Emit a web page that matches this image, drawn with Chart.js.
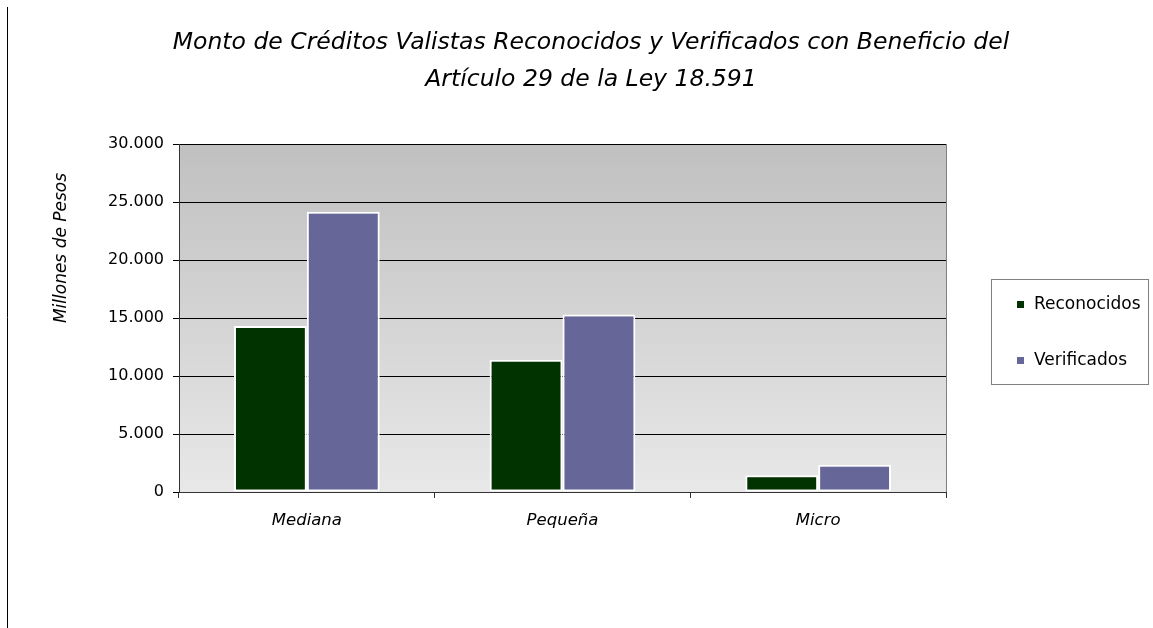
<!DOCTYPE html>
<html>
<head>
<meta charset="utf-8">
<script src="https://cdn.jsdelivr.net/npm/chart.js@4.4.1/dist/chart.umd.min.js"></script>
<style>
  html, body { margin: 0; padding: 0; background: #fff; }
  #wrap { width: 1153px; height: 628px; position: relative; }
</style>
</head>
<body>
<div id="wrap"><canvas id="grafico" width="1153" height="628"></canvas></div>
<script>
// datos (millones de pesos)
var categorias = ['Mediana', 'Pequeña', 'Micro'];
var reconocidos = [14300, 11400, 1450];
var verificados = [24150, 15300, 2350];
var series = ['Reconocidos', 'Verificados'];
var colores = ['#003300', '#666699'];

var tituloLineas = ['Monto de Créditos Valistas Reconocidos y Verificados con Beneficio del', 'Artículo 29 de la Ley 18.591'];
var tituloEje = 'Millones de Pesos';

var fuente = '"DejaVu Sans", Verdana, sans-serif';

function formato(v) {
    return String(v).replace(/\B(?=(\d{3})+(?!\d))/g, '.');
}

// fondo degradado, marco, titulo y leyenda
var extras = {
    id: 'extras',
    beforeDraw: function (chart) {
        var ctx = chart.ctx, a = chart.chartArea;
        ctx.save();
        var g = ctx.createLinearGradient(0, a.top, 0, a.bottom);
        g.addColorStop(0, '#c0c0c0');
        g.addColorStop(1, '#e8e8e8');
        ctx.fillStyle = g;
        ctx.fillRect(a.left, a.top, a.right - a.left, a.bottom - a.top);
        ctx.restore();
    },
    afterDraw: function (chart) {
        var ctx = chart.ctx, a = chart.chartArea;
        ctx.save();
        // marco derecho del area
        ctx.strokeStyle = '#808080';
        ctx.lineWidth = 1;
        ctx.beginPath();
        ctx.moveTo(a.right + 0.5, a.top);
        ctx.lineTo(a.right + 0.5, a.bottom);
        ctx.stroke();
        // linea vertical izquierda
        ctx.strokeStyle = '#000';
        ctx.beginPath();
        ctx.moveTo(7.5, 7);
        ctx.lineTo(7.5, 628);
        ctx.stroke();
        // titulo
        ctx.fillStyle = '#000';
        ctx.font = 'italic 23.5px ' + fuente;
        ctx.textAlign = 'center';
        ctx.textBaseline = 'middle';
        ctx.fillText(tituloLineas[0], 591, 43);
        ctx.fillText(tituloLineas[1], 591, 80);
        // titulo eje y
        ctx.save();
        ctx.translate(62, 248);
        ctx.rotate(-Math.PI / 2);
        ctx.font = 'italic 17px ' + fuente;
        ctx.fillText(tituloEje, 0, 0);
        ctx.restore();
        // leyenda
        ctx.fillStyle = '#fff';
        ctx.fillRect(991, 279, 157, 105);
        ctx.strokeStyle = '#808080';
        ctx.strokeRect(991.5, 279.5, 157, 105);
        ctx.font = '17px ' + fuente;
        ctx.textAlign = 'left';
        var filas = [305, 361];
        for (var i = 0; i < series.length; i++) {
            ctx.fillStyle = colores[i];
            ctx.fillRect(1017, filas[i] - 4, 7, 7);
            ctx.fillStyle = '#000';
            ctx.fillText(series[i], 1034, filas[i]);
        }
        ctx.restore();
    }
};

var ctx = document.getElementById('grafico');
var grafico = new Chart(ctx, {
    type: 'bar',
    data: {
        labels: categorias,
        datasets: [
            {
                label: series[0],
                data: reconocidos,
                backgroundColor: colores[0],
                borderColor: '#ffffff',
                borderWidth: 2,
                borderSkipped: false,
                categoryPercentage: 0.57,
                barPercentage: 1.0
            },
            {
                label: series[1],
                data: verificados,
                backgroundColor: colores[1],
                borderColor: '#ffffff',
                borderWidth: 2,
                borderSkipped: false,
                categoryPercentage: 0.57,
                barPercentage: 1.0
            }
        ]
    },
    options: {
        responsive: false,
        animation: false,
        layout: { padding: { top: 144, right: 207, left: 0, bottom: 0 } },
        plugins: {
            legend: { display: false },
            title: { display: false },
            tooltip: { enabled: false }
        },
        scales: {
            x: {
                afterFit: function (s) { s.height = 136; },
                grid: {
                    offset: true,
                    drawOnChartArea: false,
                    tickLength: 6,
                    color: '#333'
                },
                border: { color: '#333', width: 1 },
                ticks: {
                    padding: 13,
                    color: '#000',
                    font: { family: fuente, size: 16.5, style: 'italic' }
                }
            },
            y: {
                min: 0,
                max: 30000,
                afterFit: function (s) { s.width = 179; },
                grid: {
                    color: '#000',
                    tickLength: 6,
                    lineWidth: 1
                },
                border: { color: '#333', width: 1 },
                ticks: {
                    stepSize: 5000,
                    padding: 9,
                    color: '#000',
                    font: { family: fuente, size: 16 },
                    callback: function (v) { return formato(v); }
                }
            }
        }
    },
    plugins: [extras]
});
</script>
</body>
</html>
